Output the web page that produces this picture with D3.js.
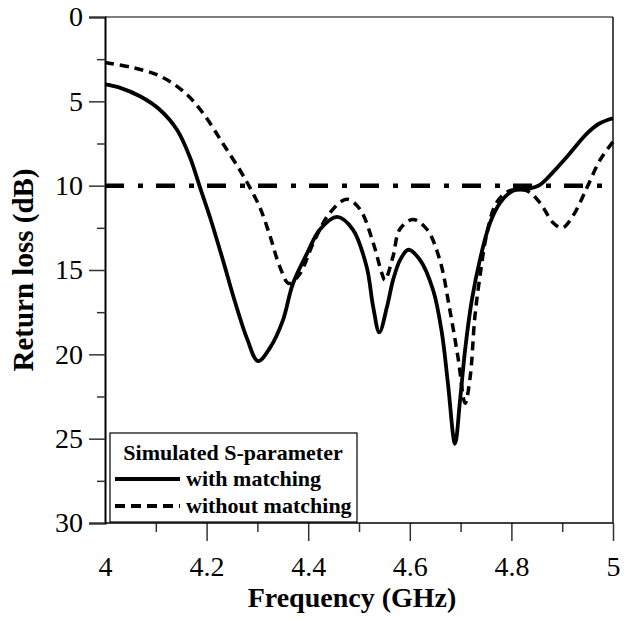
<!DOCTYPE html>
<html>
<head>
<meta charset="utf-8">
<script src="https://cdn.jsdelivr.net/npm/d3@7"></script>
<style>
  body { margin: 0; background: #fff; }
  svg text { font-family: "Liberation Serif", "Times New Roman", serif; }
</style>
</head>
<body>
<svg id="chart" width="625" height="619"></svg>
<script>
// with matching: [GHz, dB]
const withFreq = [4.0, 4.03, 4.069, 4.108, 4.142, 4.167, 4.187, 4.207, 4.232, 4.256, 4.28, 4.301, 4.325, 4.35, 4.37, 4.398, 4.423, 4.457, 4.488, 4.515, 4.528, 4.54, 4.555, 4.567, 4.581, 4.597, 4.62, 4.646, 4.663, 4.675, 4.689, 4.699, 4.709, 4.722, 4.738, 4.758, 4.778, 4.803, 4.83, 4.856, 4.882, 4.909, 4.949, 4.974, 5.0];
const withLoss = [4.0, 4.2, 4.7, 5.5, 6.7, 8.3, 10.1, 11.9, 14.4, 16.9, 19.1, 20.4, 19.6, 18.0, 15.8, 14.0, 12.6, 11.85, 12.6, 14.8, 17.2, 18.7, 17.2, 15.6, 14.4, 13.8, 14.4, 16.2, 18.7, 21.7, 25.3, 22.7, 19.7, 16.8, 14.4, 12.2, 11.0, 10.3, 10.2, 9.95, 9.2, 8.3, 6.9, 6.3, 6.0];

// without matching
const withoutFreq = [4.0, 4.055, 4.108, 4.154, 4.193, 4.232, 4.266, 4.285, 4.305, 4.325, 4.344, 4.362, 4.384, 4.41, 4.443, 4.476, 4.502, 4.528, 4.545, 4.551, 4.567, 4.58, 4.606, 4.634, 4.659, 4.679, 4.695, 4.709, 4.719, 4.728, 4.738, 4.752, 4.771, 4.797, 4.83, 4.856, 4.882, 4.9, 4.921, 4.949, 4.974, 5.0];
const withoutLoss = [2.7, 3.0, 3.5, 4.4, 5.7, 7.5, 9.1, 10.1, 11.3, 13.0, 14.8, 15.8, 15.2, 13.4, 11.6, 10.8, 11.4, 13.4, 15.2, 15.6, 14.2, 12.6, 12.0, 12.6, 14.4, 17.4, 20.2, 22.9, 21.3, 17.8, 15.4, 12.8, 11.0, 10.3, 10.3, 11.0, 12.2, 12.5, 11.8, 10.1, 8.5, 7.4];

const threshold = 10;
const xTicks = [4, 4.2, 4.4, 4.6, 4.8, 5];
const yTicks = [0, 5, 10, 15, 20, 25, 30];
const legendTitle = "Simulated S-parameter";
const seriesNames = ["with matching", "without matching"];

const svg = d3.select("#chart");
const margin = { top: 17, right: 12, bottom: 96, left: 105 };
const W = 625, H = 619;

const x = d3.scaleLinear().domain([4, 5]).range([margin.left, W - margin.right]);
const y = d3.scaleLinear().domain([0, 30]).range([margin.top, H - margin.bottom]);

// ---- frame
svg.append("line")
   .attr("x1", x(4)).attr("x2", x(5)).attr("y1", y(0)).attr("y2", y(0))
   .attr("stroke", "#000").attr("stroke-width", 1.2);
svg.append("line")
   .attr("x1", x(5)).attr("x2", x(5)).attr("y1", y(0)).attr("y2", y(30))
   .attr("stroke", "#000").attr("stroke-width", 1.4);

// ---- axes
const xMinor = d3.range(4.1, 5, 0.2);
const yMinor = d3.range(2.5, 30, 5);

const xAxis = svg.append("g").attr("transform", `translate(0,${y(30)})`);
xAxis.call(d3.axisBottom(x).tickValues(xTicks).tickSize(18).tickPadding(15).tickFormat(d3.format("")));
xAxis.selectAll(".tick line").filter(d => d === 4).remove();
svg.append("g").attr("transform", `translate(0,${y(30)})`)
   .call(d3.axisBottom(x).tickValues(xMinor).tickSize(9).tickFormat(""))
   .call(g => g.select(".domain").remove());

const yAxis = svg.append("g").attr("transform", `translate(${x(4)},0)`);
yAxis.call(d3.axisLeft(y).tickValues(yTicks).tickSize(16).tickPadding(6));
svg.append("g").attr("transform", `translate(${x(4)},0)`)
   .call(d3.axisLeft(y).tickValues(yMinor).tickSize(8).tickFormat(""))
   .call(g => g.select(".domain").remove());

svg.selectAll("g").attr("font-family", null);
svg.selectAll(".domain").attr("stroke-width", 2);
svg.selectAll(".tick line").attr("stroke", "#333").attr("stroke-width", 1.5);
svg.selectAll(".tick text").attr("font-size", 28).attr("fill", "#000");
xAxis.selectAll(".domain").remove();
svg.append("line")
   .attr("x1", x(4)).attr("x2", x(5)).attr("y1", y(30)).attr("y2", y(30))
   .attr("stroke", "#000").attr("stroke-width", 1.5);

// ---- axis titles
svg.append("text")
   .attr("x", 352).attr("y", 607)
   .attr("text-anchor", "middle")
   .attr("font-weight", "bold").attr("font-size", 28)
   .text("Frequency (GHz)");
svg.append("text")
   .attr("transform", `translate(33,${(y(0) + y(30)) / 2}) rotate(-90)`)
   .attr("text-anchor", "middle")
   .attr("font-weight", "bold").attr("font-size", 29)
   .text("Return loss (dB)");

// ---- 10 dB threshold
svg.append("line")
   .attr("x1", x(4)).attr("x2", x(5) - 4)
   .attr("y1", y(threshold)).attr("y2", y(threshold))
   .attr("stroke", "#000").attr("stroke-width", 4.5)
   .attr("stroke-dasharray", "19,14,5,13");

// ---- curves
const line = d3.line()
   .x(d => x(d[0]))
   .y(d => y(d[1]))
   .curve(d3.curveCatmullRom.alpha(0.5));

svg.append("path")
   .datum(d3.zip(withoutFreq, withoutLoss))
   .attr("d", line)
   .attr("fill", "none").attr("stroke", "#000")
   .attr("stroke-width", 3.5).attr("stroke-dasharray", "9,6");

svg.append("path")
   .datum(d3.zip(withFreq, withLoss))
   .attr("d", line)
   .attr("fill", "none").attr("stroke", "#000")
   .attr("stroke-width", 3.8);

// ---- legend
const lg = svg.append("g");
lg.append("rect")
   .attr("x", 110).attr("y", 433).attr("width", 247).attr("height", 89)
   .attr("fill", "#fff").attr("stroke", "#000").attr("stroke-width", 1.2);
lg.append("text")
   .attr("x", 233).attr("y", 460)
   .attr("text-anchor", "middle")
   .attr("font-weight", "bold").attr("font-size", 22)
   .text(legendTitle);
[[479, null], [506, "10,6"]].forEach(([ly, dash], i) => {
   lg.append("line")
      .attr("x1", 115).attr("x2", 180).attr("y1", ly).attr("y2", ly)
      .attr("stroke", "#000").attr("stroke-width", 3.8)
      .attr("stroke-dasharray", dash);
   lg.append("text")
      .attr("x", 186).attr("y", ly + 7)
      .attr("font-weight", "bold").attr("font-size", 22)
      .text(seriesNames[i]);
});
</script>
</body>
</html>
